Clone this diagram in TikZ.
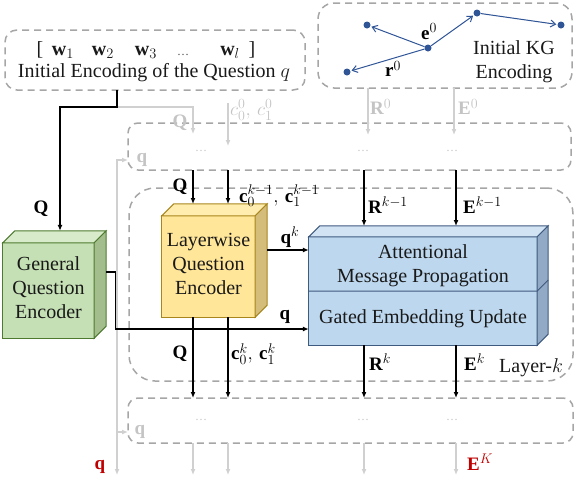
\RequirePackage{fix-cm}
\documentclass[tikz,border=0pt]{standalone}
\usepackage{fontspec}
\setmainfont{Liberation Serif}
\usetikzlibrary{arrows.meta,calc}
\DeclareMathSizes{19}{19}{14}{11}
\DeclareMathSizes{20}{20}{14.5}{11}
\definecolor{dgray}{HTML}{A6A6A6}
\definecolor{lgray}{HTML}{D0D0D0}
\definecolor{tgray}{HTML}{C4C4C4}
\definecolor{kgblue}{HTML}{2F5597}
\definecolor{darkred}{HTML}{C00000}
\definecolor{gfront}{HTML}{C5E0B4}
\definecolor{gtop}{HTML}{D8EBCB}
\definecolor{gside}{HTML}{A3BE8C}
\definecolor{gline}{HTML}{4E7A30}
\definecolor{yfront}{HTML}{FFE699}
\definecolor{ytop}{HTML}{FFEDB0}
\definecolor{yside}{HTML}{D4BC7A}
\definecolor{yline}{HTML}{A8861C}
\definecolor{bfront}{HTML}{BDD7EE}
\definecolor{btop}{HTML}{D2E4F4}
\definecolor{bside}{HTML}{92AAC6}
\definecolor{bline}{HTML}{3F5A7F}
\begin{document}
\begin{tikzpicture}[x=1pt,y=-1pt,
  dbox/.style={draw=dgray, line width=1.5pt, dash pattern=on 7pt off 5pt, inner sep=0pt, outer sep=0pt},
  arr/.style={-{Latex[length=6pt,width=5pt]}, line width=1.5pt, black},
  garr/.style={-{Latex[length=6pt,width=5pt]}, line width=1.3pt, lgray},
  lab/.style={font=\fontsize{19}{19}\selectfont, inner sep=0pt},
  glab/.style={lab, text=tgray},
  txt/.style={font=\fontsize{20}{24}\selectfont, align=center, text=black!90, inner sep=0pt},
  wtxt/.style={font=\fontsize{20}{24}\selectfont, text=black!90, inner sep=0pt, anchor=base},
  face/.style={line width=1pt},
  dots/.style={font=\fontsize{12}{12}\selectfont, text=tgray, inner sep=0pt},
  kgdot/.style={circle, fill=kgblue, inner sep=0pt, minimum size=7pt},
  kgarr/.style={-{Straight Barb[length=5pt,width=7pt]}, line width=1pt, kgblue, shorten >=1pt}
]
\useasboundingbox (0,0) rectangle (576,480);

% ---------- dashed boxes ----------
\node[dbox, rounded corners=12pt, minimum width=300pt, minimum height=60pt] (ibox) at (155,60) {};
\node[dbox, rounded corners=16pt, minimum width=254pt, minimum height=85pt] (kgbox) at (445,45.5) {};
\node[dbox, rounded corners=10pt, minimum width=443pt, minimum height=47pt] (mid) at (349.5,146.5) {};
\node[dbox, rounded corners=26pt, minimum width=444pt, minimum height=193pt] (lay) at (351,284.5) {};
\node[dbox, rounded corners=10pt, minimum width=445pt, minimum height=45pt] (bot) at (350.5,420.5) {};

% ---------- top-left contents ----------
\node[wtxt] (wl1) at (40,55) {[};
\node[wtxt] (ww1) at (63,55) {$\mathbf{w}_1$};
\node[wtxt] (ww2) at (103,55) {$\mathbf{w}_2$};
\node[wtxt] (ww3) at (146,55) {$\mathbf{w}_3$};
\node[wtxt, text=black!70] (wdt) at (183,55) {{\fontsize{12}{12}\selectfont\dots}};
\node[wtxt] (wwl) at (230,55) {$\mathbf{w}_l$};
\node[wtxt] (wr1) at (252,55) {]};
\node[txt] (ienc) at (154,73) {Initial Encoding of the Question $q$};

% ---------- KG ----------
\node[kgdot] (k1) at (367,25) {};
\node[kgdot] (k2) at (428,48) {};
\node[kgdot] (k3) at (347,72) {};
\node[kgdot] (k4) at (477,13) {};
\node[kgdot] (k5) at (561,25) {};
\draw[kgarr] (k2) -- (k1);
\draw[kgarr] (k2) -- (k3);
\draw[kgarr] (k2) -- (k4);
\draw[kgarr] (k4) -- (k5);
\node[lab] (e0) at (429,32) {$\mathbf{e}^0$};
\node[lab] (r0) at (393,69) {$\mathbf{r}^0$};
\node[txt] (kgt) at (514,61.5) {Initial KG\\Encoding};

% ---------- dots ----------
\node[dots] (d1) at (201,151) {\dots};
\node[dots] (d2) at (363,151) {\dots};
\node[dots] (d3) at (452,151) {\dots};
\node[dots] (d4) at (201,420) {\dots};
\node[dots] (d5) at (363,420) {\dots};
\node[dots] (d6) at (452,420) {\dots};

% ---------- 3D boxes ----------
% green
\node[txt, minimum width=91pt, minimum height=95pt] (gqe) at (48.5,290.5) {};
\fill[gfront, draw=gline, face] (gqe.north west) rectangle (gqe.south east);
\filldraw[fill=gtop, draw=gline, face] (gqe.north west) -- ([shift={(12,-12)}]gqe.north west) -- ([shift={(12,-12)}]gqe.north east) -- (gqe.north east) -- cycle;
\filldraw[fill=gside, draw=gline, face] (gqe.north east) -- ([shift={(12,-12)}]gqe.north east) -- ([shift={(12,-12)}]gqe.south east) -- (gqe.south east) -- cycle;
\node[txt] (gqet) at ([yshift=3pt]gqe) {General\\Question\\Encoder};
% yellow
\node[txt, minimum width=93pt, minimum height=101pt] (ylw) at (208.5,266.5) {};
\fill[yfront, draw=yline, face] (ylw.north west) rectangle (ylw.south east);
\filldraw[fill=ytop, draw=yline, face] (ylw.north west) -- ([shift={(12,-12)}]ylw.north west) -- ([shift={(12,-12)}]ylw.north east) -- (ylw.north east) -- cycle;
\filldraw[fill=yside, draw=yline, face] (ylw.north east) -- ([shift={(12,-12)}]ylw.north east) -- ([shift={(12,-12)}]ylw.south east) -- (ylw.south east) -- cycle;
\node[txt] (ylwt) at ([yshift=3pt]ylw) {Layerwise\\Question\\Encoder};
% blue
\node[txt, minimum width=228pt, minimum height=108pt] (blu) at (423,291) {};
\fill[bfront, draw=bline, face] (blu.north west) rectangle (blu.south east);
\filldraw[fill=btop, draw=bline, face] (blu.north west) -- ([shift={(11,-11)}]blu.north west) -- ([shift={(11,-11)}]blu.north east) -- (blu.north east) -- cycle;
\filldraw[fill=bside, draw=bline, face] (blu.north east) -- ([shift={(11,-11)}]blu.north east) -- ([shift={(11,-11)}]blu.south east) -- (blu.south east) -- cycle;
\draw[bline, face] (blu.west) -- (blu.east) -- ([shift={(11,-11)}]blu.east);
\node[txt] (amp) at (423,266) {Attentional\\Message Propagation};
\node[txt] (geu) at (423,319) {Gated Embedding Update};

% ---------- gray connectors ----------
\coordinate (split) at (117,107);
\coordinate (c0s) at (228,103);
\coordinate (qj) at (117,329);
\draw[garr] (split) -- (193,107) -- (193,134);
\draw[garr] (c0s) -- (228,146);
\draw[garr] (kgbox.south -| 368,0) -- (368,135);
\draw[garr] (kgbox.south -| 454,0) -- (454,135);
\draw[garr] (qj) -- (117,160) -- (mid.west |- 0,160);
\draw[garr] (qj) -- (117,475);
\draw[garr] (117,432) -- (bot.west |- 0,432);
\foreach \x in {193,228,364,456} \draw[garr] (bot.south -| \x,0) -- (\x,475);

% ---------- black connectors ----------
\draw[arr] (ibox.south -| split) -- (split) -| ([shift={(11.5,-12)}]gqe.north);
\draw[arr] (mid.south -| 193,0) -- (193,204);
\draw[arr] (mid.south -| 228,0) -- (228,204);
\draw[arr] (mid.south -| 364,0) -- (364,226);
\draw[arr] (mid.south -| 456,0) -- (456,226);
\draw[arr] ([xshift=12pt]ylw.east |- 0,250) -- (blu.west |- 0,250);
\draw[arr] ([xshift=12pt]gqe.east |- 0,272) -- (115.5,272) -- (115.5,329) -- (blu.west |- 0,329);
\draw[arr] (ylw.south -| 193,0) -- (bot.north -| 193,0);
\draw[arr] (ylw.south -| 228,0) -- (bot.north -| 228,0);
\draw[arr] (blu.south -| 364,0) -- (bot.north -| 364,0);
\draw[arr] (blu.south -| 456,0) -- (bot.north -| 456,0);

% ---------- labels ----------
\node[lab] (lQ1) at (41,209) {$\mathbf{Q}$};
\node[glab] (lQ0) at (180,123) {$\mathbf{Q}$};
\node[glab, anchor=west] (lc0) at (230,110) {$c_0^0,\, c_1^0$};
\node[glab, anchor=west] (lR0) at (370,107) {$\mathbf{R}^0$};
\node[glab, anchor=west] (lE0) at (458,107) {$\mathbf{E}^0$};
\node[glab] (lq0) at (142,160) {$\mathbf{q}$};
\node[lab] (lQk1) at (180,187) {$\mathbf{Q}$};
\node[lab, anchor=west] (lck1) at (239,196) {$\mathbf{c}_0^{k-1},\, \mathbf{c}_1^{k-1}$};
\node[lab, anchor=west] (lRk1) at (368,205) {$\mathbf{R}^{k-1}$};
\node[lab, anchor=west] (lEk1) at (463,205) {$\mathbf{E}^{k-1}$};
\node[lab] (lqk) at (290,237) {$\mathbf{q}^k$};
\node[lab] (lq) at (285,317) {$\mathbf{q}$};
\node[lab] (lQk) at (180,354) {$\mathbf{Q}$};
\node[lab, anchor=west] (lck) at (231,354) {$\mathbf{c}_0^{k},\, \mathbf{c}_1^{k}$};
\node[lab, anchor=west] (lRk) at (369,362) {$\mathbf{R}^{k}$};
\node[lab, anchor=west] (lEk) at (464,362) {$\mathbf{E}^{k}$};
\node[txt, anchor=west] (llay) at (499,368) {Layer-$k$};
\node[glab] (lq2) at (140,432) {$\mathbf{q}$};
\node[lab, text=darkred] (lqK) at (100,467) {$\mathbf{q}$};
\node[lab, text=darkred, anchor=west] (lEK) at (467,462) {$\mathbf{E}^{K}$};
\end{tikzpicture}
\end{document}
